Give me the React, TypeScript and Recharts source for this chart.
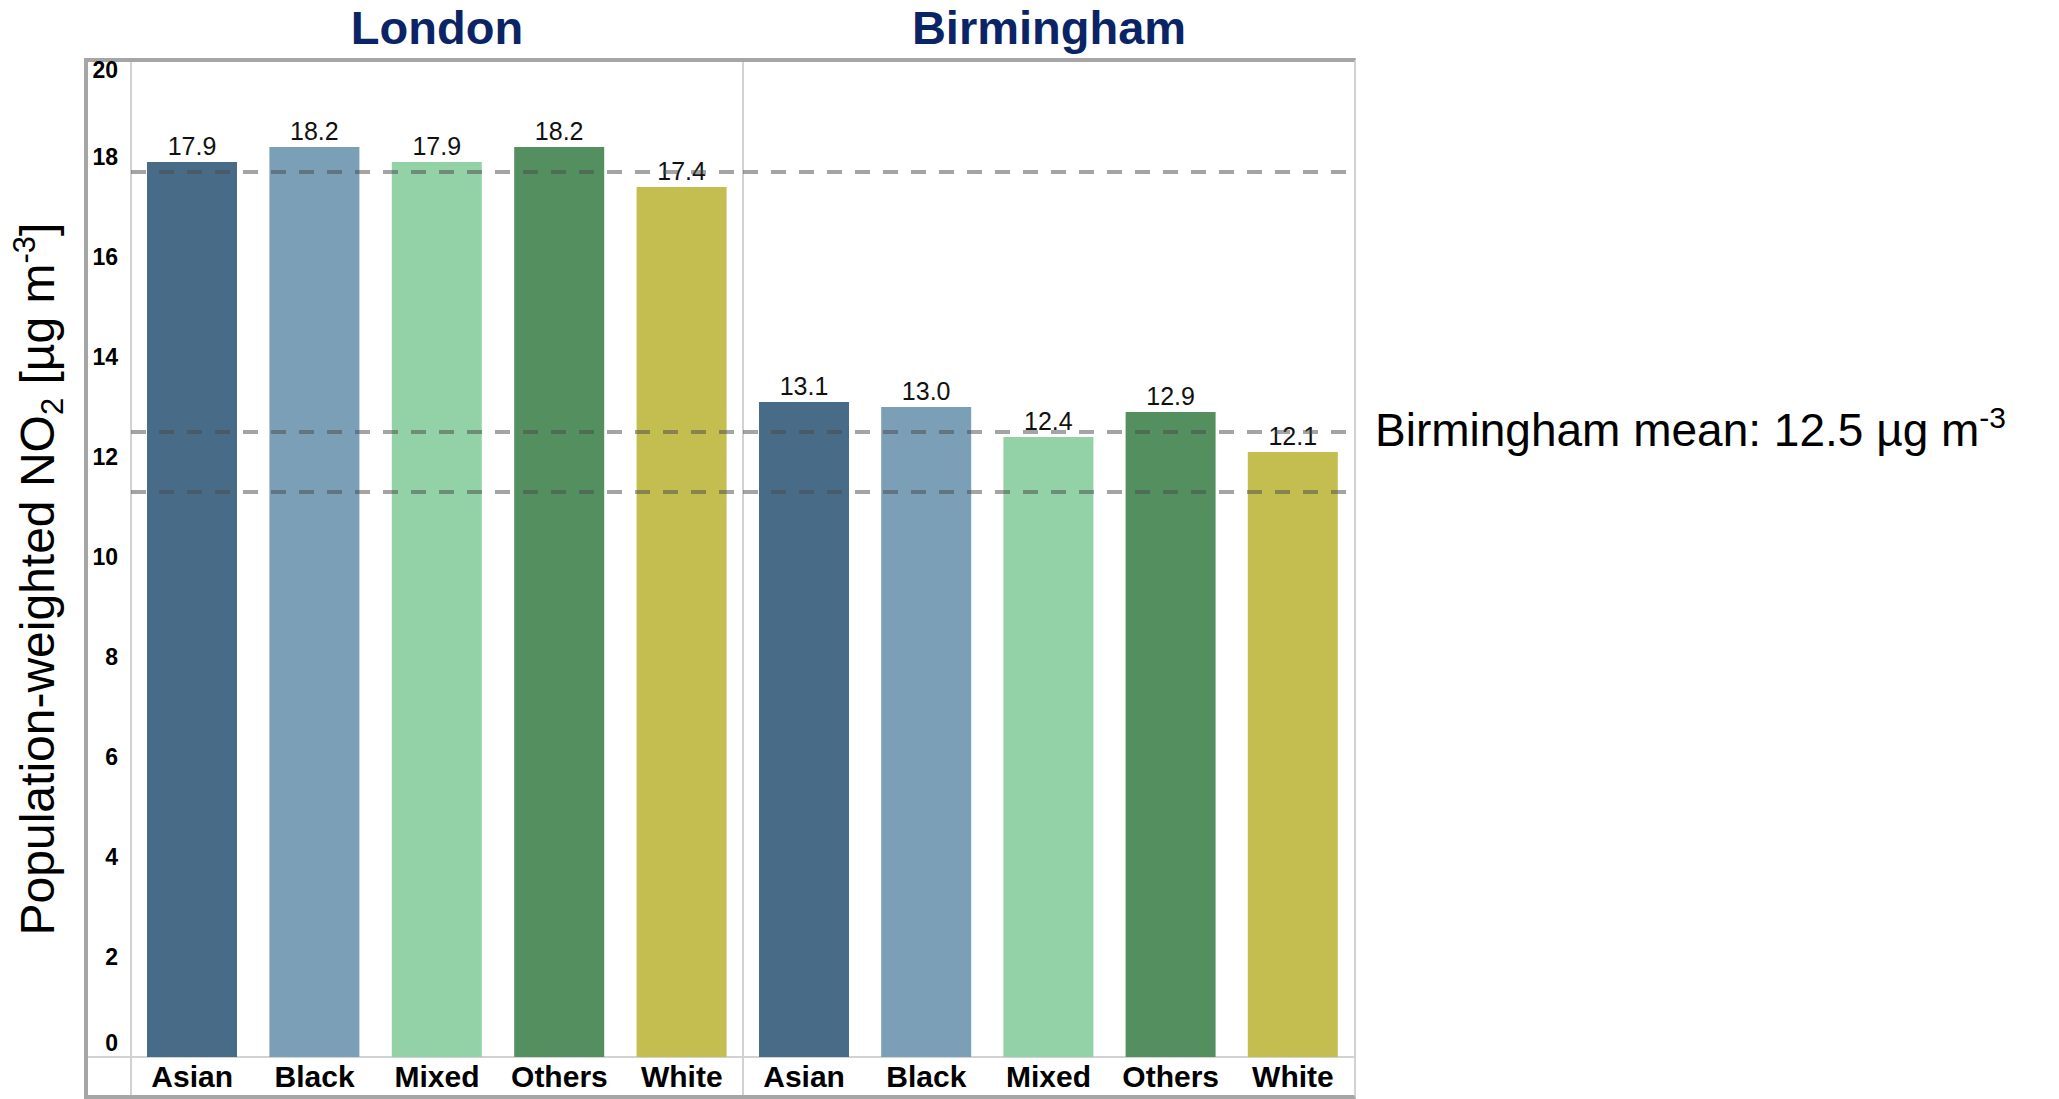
import React from 'react';
import { BarChart, Bar, XAxis, YAxis, Cell, LabelList, ReferenceLine } from 'recharts';

// ---- data ----
const ethnicGroups = ['Asian', 'Black', 'Mixed', 'Others', 'White'];
const londonValues = [17.9, 18.2, 17.9, 18.2, 17.4];
const birminghamValues = [13.1, 13.0, 12.4, 12.9, 12.1];
const groupColors = ['#486b88', '#7b9fb7', '#93d1a6', '#548f5f', '#c3be4f'];
const yTicks = [0, 2, 4, 6, 8, 10, 12, 14, 16, 18, 20];
const referenceLevels = [17.7, 12.5, 11.3];
const birminghamMean = 12.5;
const cityTitles = ['London', 'Birmingham'];

const londonData = ethnicGroups.map((g, i) => ({ group: g, value: londonValues[i] }));
const birminghamData = ethnicGroups.map((g, i) => ({ group: g, value: birminghamValues[i] }));

// ---- layout ----
const PAGE_W = 2059;
const PAGE_H = 1099;
const PLOT_TOP = 57;
const PLOT_H = 1000;
const X_AXIS_H = PAGE_H - PLOT_TOP - PLOT_H;
const Y_AXIS_W = 131;
const PANEL_W = 612;
const ANNOTATION_W = 705;
const FRAME_LEFT = 84;
const FRAME_TOP = 58;
const FRAME_RIGHT = 1356;
const FRAME_BORDER = 4;
const FONT = '"Liberation Sans", Arial, Helvetica, sans-serif';
const FRAME_GREY = '#a6a6a6';
const RULE_GREY = '#d2d2d2';

const YTick = (props: any) => {
  const { x, y, payload } = props;
  // keep the end labels inside the frame
  let nudge = 0;
  if (payload.value === 20) nudge = 13;
  if (payload.value === 0) nudge = -14;
  return (
    <text x={x} y={y + nudge} dy="0.355em" textAnchor="end" fontSize={23} fontWeight="bold" fill="#000" fontFamily={FONT}>
      {payload.value}
    </text>
  );
};

const XTick = (props: any) => {
  const { x, y, payload } = props;
  return (
    <text x={x} y={y} dy="0.72em" textAnchor="middle" fontSize={30} fontWeight="bold" fill="#000" fontFamily={FONT}>
      {payload.value}
    </text>
  );
};

const YAxisTitle = (props: any) => {
  const vb = props.viewBox || { x: 0, y: PLOT_TOP, width: Y_AXIS_W, height: PLOT_H };
  const bx = vb.x + 54;
  const cy = vb.y + vb.height / 2 + 22;
  return (
    <text
      x={bx}
      y={cy}
      transform={`rotate(-90, ${bx}, ${cy})`}
      textAnchor="middle"
      fontSize={48}
      fill="#000"
      fontFamily={FONT}
    >
      <tspan>Population-weighted NO</tspan>
      <tspan fontSize={31} dy={9}>2</tspan>
      <tspan dy={-9}> [µg m</tspan>
      <tspan fontSize={31} dy={-19}>-3</tspan>
      <tspan dy={19}>]</tspan>
    </text>
  );
};

const MeanLabel = (props: any) => {
  const vb = props.viewBox;
  if (!vb) return null;
  const x = vb.x + vb.width + 21;
  const y = vb.y + 14;
  return (
    <text x={x} y={y} fontSize={46} fill="#000" fontFamily={FONT}>
      <tspan>Birmingham mean: {birminghamMean.toFixed(1)} µg m</tspan>
      <tspan fontSize={30} dy={-18}>-3</tspan>
    </text>
  );
};

const dashProps = {
  stroke: '#4a4a4a',
  strokeOpacity: 0.5,
  strokeWidth: 4,
  strokeDasharray: '15 13',
};

type PanelProps = { data: any[]; withAxis: boolean; withAnnotation: boolean };

const panelWidth = (withAxis: boolean, withAnnotation: boolean) =>
  (withAxis ? Y_AXIS_W : 0) + PANEL_W + (withAnnotation ? ANNOTATION_W - 1 : 0);

// bars, values and axes of one city
const CityPanel = ({ data, withAxis, withAnnotation }: PanelProps) => (
  <BarChart
    width={panelWidth(withAxis, withAnnotation)}
    height={PAGE_H}
    data={data}
    margin={{ top: PLOT_TOP, right: withAnnotation ? ANNOTATION_W : 0, bottom: 0, left: 0 }}
  >
    <XAxis
      dataKey="group"
      type="category"
      height={X_AXIS_H}
      axisLine={false}
      tickLine={false}
      tickSize={0}
      tickMargin={8}
      interval={0}
      tick={<XTick />}
    />
    <YAxis
      type="number"
      domain={[0, 20]}
      ticks={yTicks}
      hide={!withAxis}
      width={withAxis ? Y_AXIS_W : 0}
      axisLine={false}
      tickLine={false}
      tickSize={0}
      tickMargin={13}
      interval={0}
      tick={<YTick />}
      label={withAxis ? <YAxisTitle /> : undefined}
    />
    <Bar dataKey="value" barSize={90} isAnimationActive={false}>
      {data.map((d, i) => (
        <Cell key={d.group} fill={groupColors[i]} />
      ))}
      <LabelList
        dataKey="value"
        position="top"
        offset={7}
        formatter={(v: any) => Number(v).toFixed(1)}
        fill="#111"
        fontSize={25}
        fontFamily={FONT}
      />
    </Bar>
  </BarChart>
);

// dashed reference levels, drawn over the bars
const RuleOverlay = ({ data, withAxis, withAnnotation }: PanelProps) => (
  <BarChart
    width={panelWidth(withAxis, withAnnotation)}
    height={PAGE_H}
    data={data}
    margin={{ top: PLOT_TOP, right: withAnnotation ? ANNOTATION_W : 0, bottom: 0, left: 0 }}
  >
    <XAxis dataKey="group" type="category" height={X_AXIS_H} tick={false} axisLine={false} tickLine={false} />
    <YAxis
      type="number"
      domain={[0, 20]}
      ticks={yTicks}
      hide={!withAxis}
      width={withAxis ? Y_AXIS_W : 0}
      tick={false}
      axisLine={false}
      tickLine={false}
    />
    <Bar dataKey="value" barSize={90} fill="transparent" isAnimationActive={false} />
    {referenceLevels.map((lv) => (
      <ReferenceLine
        key={lv}
        y={lv}
        {...dashProps}
        label={withAnnotation && lv === birminghamMean ? <MeanLabel /> : undefined}
      />
    ))}
  </BarChart>
);

export default function App() {
  const leftW = Y_AXIS_W + PANEL_W;
  const layer: React.CSSProperties = { position: 'absolute', top: 0 };
  return (
    <div
      style={{
        position: 'absolute',
        left: 0,
        top: 0,
        width: PAGE_W,
        height: PAGE_H,
        background: '#fff',
        fontFamily: FONT,
        overflow: 'hidden',
      }}
    >
      {/* outer frame */}
      <div
        style={{
          position: 'absolute',
          left: FRAME_LEFT,
          top: FRAME_TOP,
          width: FRAME_RIGHT - FRAME_LEFT,
          height: PAGE_H - FRAME_TOP,
          boxSizing: 'border-box',
          borderTop: `${FRAME_BORDER}px solid ${FRAME_GREY}`,
          borderLeft: `${FRAME_BORDER}px solid ${FRAME_GREY}`,
          borderBottom: `${FRAME_BORDER}px solid ${FRAME_GREY}`,
          borderRight: `2px solid ${RULE_GREY}`,
        }}
      />
      {/* table rules: axis column, city divider, baseline */}
      <div style={{ position: 'absolute', left: Y_AXIS_W - 1, top: FRAME_TOP + FRAME_BORDER, width: 2, height: PAGE_H - FRAME_TOP - 2 * FRAME_BORDER, background: RULE_GREY }} />
      <div style={{ position: 'absolute', left: leftW - 1, top: FRAME_TOP + FRAME_BORDER, width: 2, height: PAGE_H - FRAME_TOP - 2 * FRAME_BORDER, background: RULE_GREY }} />
      <div style={{ position: 'absolute', left: FRAME_LEFT + FRAME_BORDER, top: PLOT_TOP + PLOT_H - 1, width: FRAME_RIGHT - FRAME_LEFT - FRAME_BORDER - 2, height: 2, background: RULE_GREY }} />

      {/* city titles */}
      {cityTitles.map((t, i) => (
        <div
          key={t}
          style={{
            position: 'absolute',
            left: Y_AXIS_W + i * PANEL_W,
            top: 4,
            width: PANEL_W,
            textAlign: 'center',
            fontSize: 47,
            lineHeight: '47px',
            fontWeight: 'bold',
            color: '#0a2466',
          }}
        >
          {t}
        </div>
      ))}

      <div style={{ ...layer, left: 0 }}>
        <CityPanel data={londonData} withAxis={true} withAnnotation={false} />
      </div>
      <div style={{ ...layer, left: leftW }}>
        <CityPanel data={birminghamData} withAxis={false} withAnnotation={true} />
      </div>
      <div style={{ ...layer, left: 0, pointerEvents: 'none' }}>
        <RuleOverlay data={londonData} withAxis={true} withAnnotation={false} />
      </div>
      <div style={{ ...layer, left: leftW, pointerEvents: 'none' }}>
        <RuleOverlay data={birminghamData} withAxis={false} withAnnotation={true} />
      </div>
    </div>
  );
}
